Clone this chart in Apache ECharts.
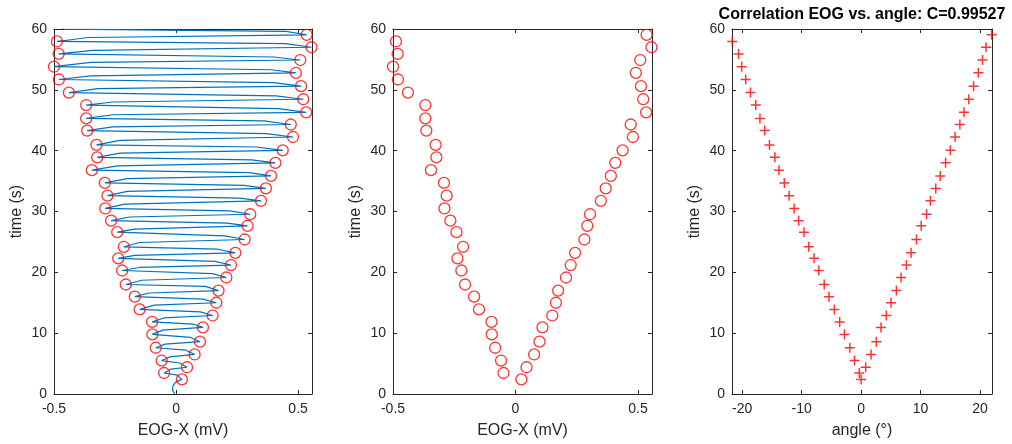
<!DOCTYPE html>
<html><head><meta charset="utf-8">
<script src="https://cdn.jsdelivr.net/npm/echarts@6/dist/echarts.min.js"></script>
<style>html,body{margin:0;padding:0;background:#fff}#c{width:1012px;height:444px}</style>
</head><body><div id="c"></div><script>
// Event times (s) of the fixation peaks
const times = [2.4,3.45,4.4,5.5,6.5,7.6,8.6,9.8,10.95,11.85,12.9,13.9,15.0,16.0,17.0,18.0,19.15,20.3,21.2,22.3,23.2,24.2,25.4,26.6,27.65,28.5,29.55,30.5,31.75,32.6,33.8,34.7,35.85,36.8,38.0,38.9,40.05,40.95,42.25,43.3,44.3,45.3,46.3,47.5,48.45,49.55,50.6,51.7,52.8,53.8,54.9,55.9,57.0,57.95,59.05];
// EOG-X value at each peak (mV)
const eogPeaks = [0.024,-0.049,0.045,-0.059,0.076,-0.083,0.098,-0.097,0.110,-0.098,0.150,-0.149,0.165,-0.169,0.174,-0.206,0.206,-0.221,0.225,-0.237,0.243,-0.214,0.281,-0.241,0.293,-0.266,0.304,-0.290,0.348,-0.281,0.368,-0.292,0.389,-0.345,0.407,-0.323,0.437,-0.326,0.479,-0.364,0.470,-0.368,0.533,-0.368,0.521,-0.439,0.512,-0.48,0.491,-0.50,0.509,-0.481,0.555,-0.488,0.535];
// Gaze angle at each peak (deg)
const anglePeaks = [0.0,-0.3,0.77,-1.1,1.67,-1.9,2.56,-2.8,3.35,-3.6,4.24,-4.5,5.03,-5.4,5.93,-6.2,6.72,-7.1,7.61,-7.9,8.4,-8.8,9.3,-9.6,10.1,-10.5,11.0,-11.25,11.65,-12.1,12.55,-12.9,13.3,-13.8,14.2,-14.5,15.0,-15.4,15.8,-16.2,16.6,-17.0,17.3,-17.7,18.1,-18.6,18.9,-19.4,19.7,-20.07,20.4,-20.6,21.0,-21.65,21.95];
// Raw EOG trace vertices [EOG-X (mV), time (s)]
const trace = [
[-0.005,0],[-0.015,0.7],[-0.012,1.4],[0.0,2.0],
[0.024,2.4],[0.005,3.1],[-0.049,3.45],[-0.02,4.1],[0.045,4.4],[0.015,5.1],
[-0.059,5.5],[-0.025,6.1],[0.076,6.5],[0.04,7.2],[-0.083,7.6],[-0.045,8.2],
[0.098,8.6],[0.06,9.3],[-0.097,9.8],[-0.055,10.5],[0.11,10.95],[0.07,11.5],
[-0.098,11.85],[-0.05,12.5],[0.15,12.9],[0.1,13.5],[-0.149,13.9],[-0.09,14.6],
[0.165,15.0],[0.11,15.6],[-0.169,16.0],[-0.11,16.6],[0.174,17.0],[0.12,17.7],
[-0.206,18.0],[-0.14,18.7],[0.206,19.15],[0.15,19.8],[-0.221,20.3],[-0.15,20.8],
[0.225,21.2],[0.16,21.8],[-0.237,22.3],[-0.17,22.8],[0.243,23.2],[0.17,23.8],
[-0.214,24.2],[-0.15,24.9],[0.281,25.4],[0.2,26.0],[-0.241,26.6],[-0.17,27.1],
[0.293,27.65],[0.21,28.1],[-0.266,28.5],[-0.19,29.1],[0.304,29.55],[0.22,30.1],
[-0.29,30.5],[-0.21,31.2],[0.348,31.75],[0.26,32.2],[-0.281,32.6],[-0.2,33.3],
[0.368,33.8],[0.28,34.3],[-0.292,34.7],[-0.2,35.4],[0.389,35.85],[0.3,36.4],
[-0.345,36.8],[-0.24,37.5],[0.407,38.0],[0.31,38.5],[-0.323,38.9],[-0.23,39.6],
[0.437,40.05],[0.33,40.6],[-0.326,40.95],[-0.23,41.7],[0.479,42.25],[0.37,42.8],
[-0.364,43.3],[-0.26,43.9],[0.47,44.3],[0.36,44.9],[-0.368,45.3],[-0.26,45.9],
[0.533,46.3],[0.42,46.9],[-0.368,47.5],[-0.26,48.0],[0.521,48.45],[0.41,49.0],
[-0.439,49.55],[-0.32,50.2],[0.512,50.6],[0.4,51.2],[-0.48,51.7],[-0.35,52.3],
[0.491,52.8],[0.39,53.3],[-0.5,53.8],[-0.35,54.5],[0.509,54.9],[0.4,55.4],
[-0.481,55.9],[-0.34,56.5],[0.555,57.0],[0.45,57.6],[-0.488,57.95],[-0.36,58.6],
[0.535,59.05],[0.45,59.6],[-0.46,59.98],[-0.47,60.6]
];
const eogTicks = [-0.5, 0, 0.5];
const angleTicks = [-20, -10, 0, 10, 20];
const timeTicksInterval = 10;
const titleText = 'Correlation EOG vs. angle: C=0.99527';

const FONT = 'Liberation Sans, Arial, Helvetica, sans-serif';
const AX = '#262626';
const grids = [{left:54,width:258},{left:393,width:259},{left:732,width:260}]
  .map(g => Object.assign({top:29, height:368, containLabel:false}, g));
const xSpecs = [
  {min:-0.5, max:0.557, ticks:eogTicks, name:'EOG-X (mV)'},
  {min:-0.5, max:0.557, ticks:eogTicks, name:'EOG-X (mV)'},
  {min:-21.7, max:22.0, ticks:angleTicks, name:'angle (°)'}
];
const xAxis = [], yAxis = [];
xSpecs.forEach((s, i) => {
  xAxis.push({type:'value', gridIndex:i, position:'bottom', min:s.min, max:s.max,
    name:s.name, nameLocation:'middle', nameGap:29,
    nameTextStyle:{color:AX, fontSize:16, fontFamily:FONT},
    axisLine:{show:true, onZero:false, lineStyle:{color:AX, width:1}},
    axisTick:{show:true, inside:true, length:4, customValues:s.ticks, lineStyle:{color:AX}},
    axisLabel:{show:true, customValues:s.ticks, color:AX, fontSize:14, fontFamily:FONT, margin:8},
    splitLine:{show:false}});
});
xSpecs.forEach((s, i) => {
  xAxis.push({type:'value', gridIndex:i, position:'top', min:s.min, max:s.max,
    axisLine:{show:true, onZero:false, lineStyle:{color:AX, width:1}},
    axisTick:{show:true, inside:true, length:4, customValues:s.ticks, lineStyle:{color:AX}},
    axisLabel:{show:false}, splitLine:{show:false}});
});
[0,1,2].forEach(i => {
  yAxis.push({type:'value', gridIndex:i, position:'left', min:0, max:60, interval:timeTicksInterval,
    name:'time (s)', nameLocation:'middle', nameGap:29,
    nameTextStyle:{color:AX, fontSize:16, fontFamily:FONT},
    axisLine:{show:true, onZero:false, lineStyle:{color:AX, width:1}},
    axisTick:{show:true, inside:true, length:4, lineStyle:{color:AX}},
    axisLabel:{show:true, color:AX, fontSize:14, fontFamily:FONT, margin:7},
    splitLine:{show:false}});
});
[0,1,2].forEach(i => {
  yAxis.push({type:'value', gridIndex:i, position:'right', min:0, max:60, interval:timeTicksInterval,
    axisLine:{show:true, onZero:false, lineStyle:{color:AX, width:1}},
    axisTick:{show:true, inside:true, length:4, lineStyle:{color:AX}},
    axisLabel:{show:false}, splitLine:{show:false}});
});

const circles = times.map((t, i) => [eogPeaks[i], t]);
const pluses = times.map((t, i) => [anglePeaks[i], t]);
const circleStyle = {color:'transparent', borderColor:'#ff0000', borderWidth:1.3};

const chart = echarts.init(document.getElementById('c'), null, {renderer:'canvas'});
chart.setOption({
  animation:false,
  backgroundColor:'#ffffff',
  title:{text:titleText, left:862, top:7, textAlign:'center', padding:0,
    textStyle:{color:'#000', fontSize:16, fontWeight:'bold', fontFamily:FONT}},
  grid:grids, xAxis:xAxis, yAxis:yAxis,
  series:[
    {type:'line', xAxisIndex:0, yAxisIndex:0, data:trace, showSymbol:false, symbol:'none',
      lineStyle:{color:'#0072BD', width:1.2}, clip:true, z:2},
    {type:'scatter', xAxisIndex:0, yAxisIndex:0, data:circles, symbol:'circle', symbolSize:11,
      itemStyle:circleStyle, clip:false, z:3},
    {type:'scatter', xAxisIndex:1, yAxisIndex:1, data:circles, symbol:'circle', symbolSize:11,
      itemStyle:circleStyle, clip:false, z:3},
    {type:'scatter', xAxisIndex:2, yAxisIndex:2, data:pluses,
      symbol:'path://M0,5L10,5M5,0L5,10', symbolSize:10,
      itemStyle:{color:'transparent', borderColor:'#ff0000', borderWidth:1.5}, clip:false, z:3}
  ]
});
</script></body></html>
